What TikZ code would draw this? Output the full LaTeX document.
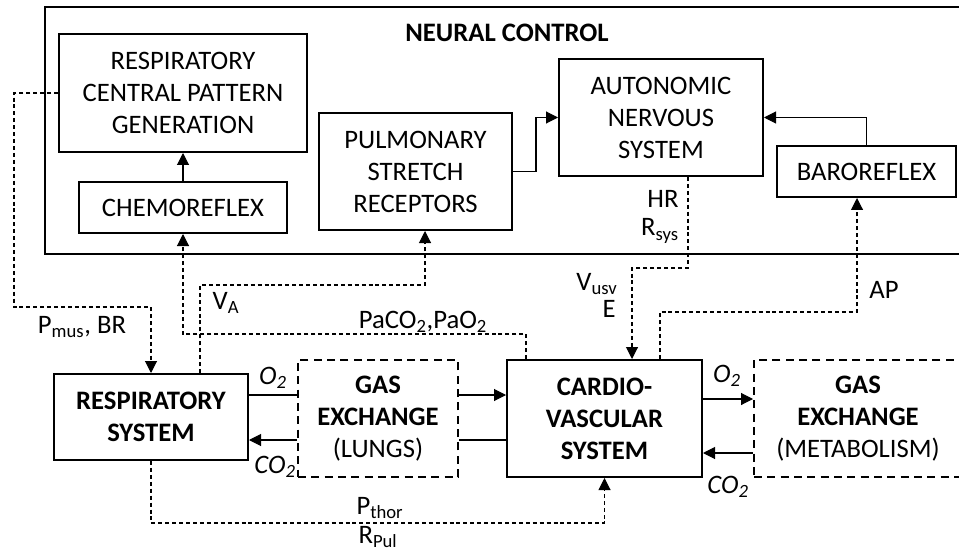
\documentclass[tikz,border=0pt]{standalone}
\usepackage{fontspec}
\setmainfont{Carlito}
\usetikzlibrary{arrows.meta,positioning}
\newcommand{\fsz}{\fontsize{20}{24}\selectfont}

\tikzset{
  box/.style={draw,line width=1.5pt,align=center,inner sep=0pt,font=\fsz},
  boldbox/.style={box,font=\fsz\bfseries},
  gasbox/.style={box,dash pattern=on 6pt off 4pt},
  sz/.style 2 args={minimum width=#1*0.75pt,minimum height=#2*0.75pt},
  link/.style={line width=0.8pt},
  sig/.style={line width=0.8pt,dash pattern=on 3pt off 2.2pt},
  tip/.style={-{Triangle[length=9pt,width=9pt]}},
  lbl/.style={inner sep=0pt,font=\fsz}
}

\begin{document}
\begin{tikzpicture}[x=0.75pt,y=-0.75pt]
  \useasboundingbox (0,0) rectangle (959,552);

  % neural control frame
  \draw[line width=1.5pt] (965,7) -| (45,254) -- (965,254);
  \node[lbl,font=\fsz\bfseries] (title) at (507,33) {NEURAL CONTROL};

  \node[box,sz={248}{118}] (cpg) at (183,93) {RESPIRATORY\\CENTRAL PATTERN\\GENERATION};
  \node[box,sz={208}{51}] (chemo) at (183,207.5) {CHEMOREFLEX};
  \node[box,sz={193}{117}] (psr) at (415.5,171.5) {PULMONARY\\STRETCH\\RECEPTORS};
  \node[box,sz={204}{117}] (ans) at (661,117.5) {AUTONOMIC\\NERVOUS\\SYSTEM};
  \node[box,sz={179}{51}] (baro) at (866.5,171.5) {BAROREFLEX};

  % plant
  \node[boldbox,sz={194}{86}] (resp) at (151,417) {RESPIRATORY\\SYSTEM};
  \node[gasbox,sz={160}{117}] (lungs) at (378,418.5) {\textbf{GAS}\\\textbf{EXCHANGE}\\(LUNGS)};
  \node[boldbox,sz={195}{117}] (cvs) at (604.5,418.5) {CARDIO-\\VASCULAR\\SYSTEM};
  \node[gasbox,sz={208}{117}] (meta) at (858,418.5) {\textbf{GAS}\\\textbf{EXCHANGE}\\(METABOLISM)};

  % neural links
  \draw[link,tip] (chemo.north) -- (cpg.south);
  \draw[link,tip] (psr.east) -- ++(23,0) |- (ans.west);
  \draw[link,tip] (baro.north) |- (ans.east);

  % gas flows
  \coordinate (lo) at (0,395);
  \coordinate (lc) at (0,440);
  \coordinate (mo) at (0,399);
  \coordinate (mc) at (0,453);
  \draw[link] (resp.east |- lo) -- (lungs.west |- lo);
  \draw[link,tip] (lungs.west |- lc) -- (resp.east |- lc);
  \draw[link,tip] (lungs.east |- lo) -- (cvs.west |- lo);
  \draw[link] (cvs.west |- lc) -- (lungs.east |- lc);
  \draw[link,tip] (cvs.east |- mo) -- (meta.west |- mo);
  \draw[link,tip] (meta.west |- mc) -- (cvs.east |- mc);

  % signals
  \coordinate (pmus) at (14,307);
  \draw[sig,tip] (cpg.west) -| (pmus) -| (resp.north);

  \coordinate (va1) at (200,285);
  \coordinate (va2) at (425,285);
  \draw[sig,tip] (resp.north -| va1) -- (va1) -- (va2) -- (va2 |- psr.south);

  \coordinate (pa) at (526,334);
  \draw[sig,tip] (cvs.north -| pa) -- (pa) -| (chemo.south);

  \coordinate (hr) at (688,268);
  \coordinate (usv) at (632,268);
  \draw[sig,tip] (ans.south -| hr) -- (hr) -- (usv) -- (usv |- cvs.north);

  \coordinate (ap1) at (660,312);
  \coordinate (ap2) at (857,312);
  \draw[sig,tip] (cvs.north -| ap1) -- (ap1) -- (ap2) -- (ap2 |- baro.south);

  \coordinate (pthor) at (400,523);
  \draw[sig,tip] (resp.south) |- (pthor) -| (cvs.south);

  % labels
  \node[lbl] (pmuslbl) at (82,327) {P\textsubscript{mus}, BR};
  \node[lbl] (valbl) at (226,303) {V\textsubscript{A}};
  \node[lbl] (palbl) at (423,322) {PaCO\textsubscript{2},PaO\textsubscript{2}};
  \node[lbl] (hrlbl) at (663,199) {HR};
  \node[lbl] (rsyslbl) at (660,231) {R\textsubscript{sys}};
  \node[lbl] (usvlbl) at (597,284) {V\textsubscript{usv}};
  \node[lbl] (elbl) at (609,309) {E};
  \node[lbl] (aplbl) at (884,290) {AP};
  \node[lbl] (pthorlbl) at (380,508) {P\textsubscript{thor}};
  \node[lbl] (rpullbl) at (378,537) {R\textsubscript{Pul}};
  \node[lbl] (o2l) at (273,378) {\textit{O\textsubscript{2}}};
  \node[lbl] (co2l) at (275,467) {\textit{CO\textsubscript{2}}};
  \node[lbl] (o2r) at (727,376) {\textit{O\textsubscript{2}}};
  \node[lbl] (co2r) at (728,487) {\textit{CO\textsubscript{2}}};
\end{tikzpicture}
\end{document}
